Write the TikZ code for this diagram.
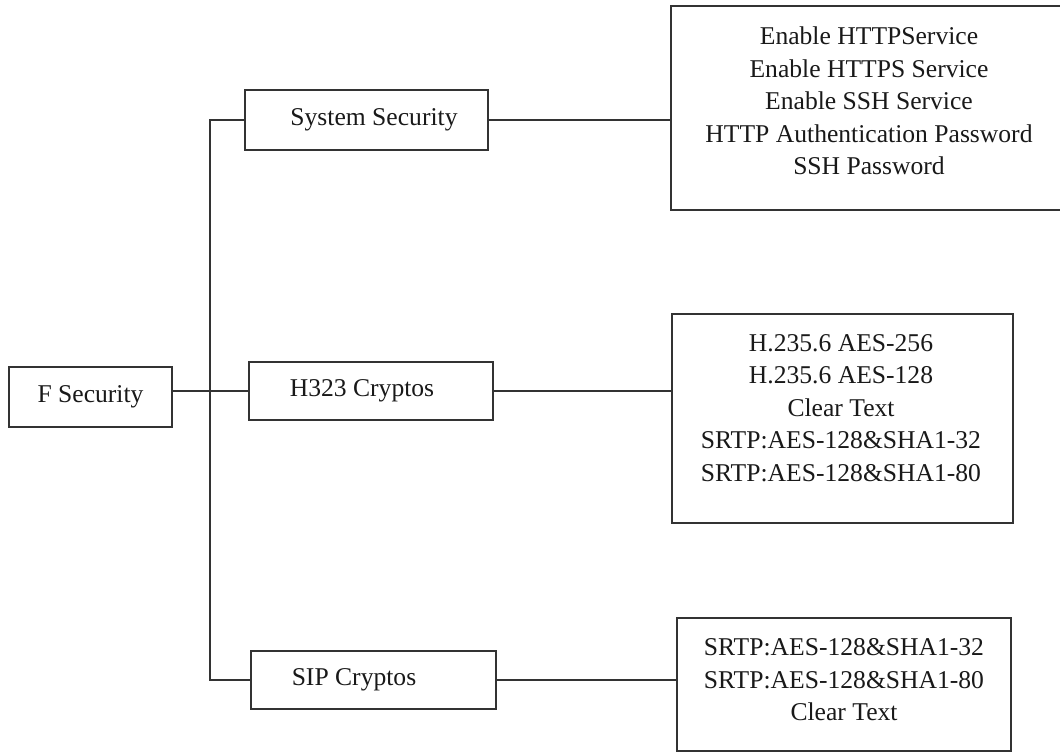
\documentclass[tikz,border=0pt]{standalone}
\usepackage{fontspec}
\setmainfont{Liberation Serif}
\begin{document}
\begin{tikzpicture}[x=1pt,y=-1pt,
  every node/.style={font=\fontsize{25.6}{32.5}\selectfont, text=black!90, inner sep=0pt, outer sep=0pt},
  box/.style={draw=black!80, line width=2.2pt, rectangle},
  list/.style={align=center},
  wire/.style={draw=black!80, line width=2.2pt}]
  \useasboundingbox[fill=white] (0,0) rectangle (1060,753);

  % left column: root and the three groups
  \node[box, minimum width=163pt, minimum height=60pt] (fsec) at (90.5,397) {F Security};
  \node[box, minimum width=243pt, minimum height=60pt] (sys)  at (366.5,120) {\hspace*{15pt}System Security};
  \node[box, minimum width=244pt, minimum height=58pt] (h323) at (371,391) {H323 Cryptos\hspace*{18pt}};
  \node[box, minimum width=245pt, minimum height=58pt] (sip)  at (373.5,680) {SIP Cryptos\hspace*{39pt}};

  % right column: option lists
  \node[box, minimum width=396pt, minimum height=204pt] (sysopts)  at (869,108) {};
  \node[list] (sysoptstext) at (869,101)
    {Enable HTTPService\\Enable HTTPS Service\\Enable SSH Service\\HTTP Authentication Password\\SSH Password};
  \node[box, minimum width=341pt, minimum height=209pt] (h323opts) at (842.5,418.5) {};
  \node[list] (h323optstext) at (841,408)
    {H.235.6 AES-256\\H.235.6 AES-128\\Clear Text\\SRTP:AES-128\&SHA1-32\\SRTP:AES-128\&SHA1-80};
  \node[box, minimum width=334pt, minimum height=133pt] (sipopts)  at (844,684.5) {};
  \node[list] (sipoptstext) at (844,680)
    {SRTP:AES-128\&SHA1-32\\SRTP:AES-128\&SHA1-80\\Clear Text};

  % trunk joining the groups to the root
  \coordinate (trunk) at (210,0);
  \draw[wire] (sys.west) -- (sys.west -| trunk) -- (sip.west -| trunk) -- (sip.west);
  \draw[wire] (fsec.east |- h323.west) -- (h323.west);

  % groups to their option lists
  \draw[wire] (sys.east) -- (sys.east -| sysopts.west);
  \draw[wire] (h323.east) -- (h323.east -| h323opts.west);
  \draw[wire] (sip.east) -- (sip.east -| sipopts.west);
\end{tikzpicture}
\end{document}
